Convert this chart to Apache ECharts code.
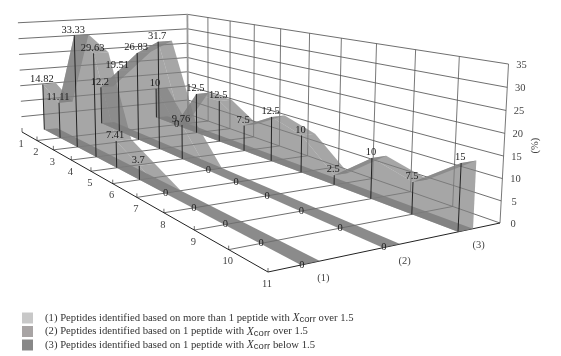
<!DOCTYPE html>
<html><head><meta charset="utf-8">
<style>html,body{margin:0;padding:0;background:#fff}#c{width:561px;height:356px}</style>
<script src="https://cdn.jsdelivr.net/npm/echarts@6/dist/echarts.min.js"></script>
</head><body><div id="c"></div>
<script>
const categories = ['1','2','3','4','5','6','7','8','9','10','11'];
const series1 = [14.82,11.11,33.33,29.63,7.41,3.7,0,0,0,0,0];
const series2 = [12.2,19.51,26.83,31.7,9.76,0,0,0,0,0,0];
const series3 = [10,0,12.5,12.5,7.5,12.5,10,2.5,10,7.5,15];
const seriesTicks = ['(1)','(2)','(3)'];
const valueTicks = [0,5,10,15,20,25,30,35];
const legendNames = [
 '(1) Peptides identified based on more than 1 peptide with Xcorr over 1.5',
 '(2) Peptides identified based on 1 peptide with Xcorr over 1.5',
 '(3) Peptides identified based on 1 peptide with Xcorr below 1.5'];
const legendColors = ['#c8c8c8','#a8a4a4','#888888'];
const ribbonBands = [[0.124,0.198],[0.457,0.531],[0.795,0.867]];
const VMAX = 35;

// camera: floor corners and wall-top corners in image space
const F = [[22,132],[268,272],[500,223],[188,114]];
const T = [[18,23],[187,16],[509,61]];
const TUV = [[0,0],[0,1],[1,1]];
const H = (function(){
  const [p0,p1,p2,p3]=F;
  const dx1=p1[0]-p2[0],dx2=p3[0]-p2[0],sx=p0[0]-p1[0]+p2[0]-p3[0];
  const dy1=p1[1]-p2[1],dy2=p3[1]-p2[1],sy=p0[1]-p1[1]+p2[1]-p3[1];
  const den=dx1*dy2-dx2*dy1;
  const g=(sx*dy2-dx2*sy)/den,h=(dx1*sy-sx*dy1)/den;
  return {a:p1[0]-p0[0]+g*p1[0],b:p3[0]-p0[0]+h*p3[0],c:p0[0],
          d:p1[1]-p0[1]+g*p1[1],e:p3[1]-p0[1]+h*p3[1],f:p0[1],g,h};
})();
function floorH(u,v){return [H.a*u+H.b*v+H.c,H.d*u+H.e*v+H.f,H.g*u+H.h*v+1];}
const Z = (function(){
  const A=[],B=[];
  T.forEach((t,i)=>{const q=floorH(TUV[i][0],TUV[i][1]);
    A.push([1,0,-t[0]]);B.push(t[0]*q[2]-q[0]);
    A.push([0,1,-t[1]]);B.push(t[1]*q[2]-q[1]);});
  const N=[[0,0,0],[0,0,0],[0,0,0]],r=[0,0,0];
  A.forEach((row,k)=>{for(let i=0;i<3;i++){r[i]+=row[i]*B[k];for(let j=0;j<3;j++)N[i][j]+=row[i]*row[j];}});
  const det=m=>m[0][0]*(m[1][1]*m[2][2]-m[1][2]*m[2][1])-m[0][1]*(m[1][0]*m[2][2]-m[1][2]*m[2][0])+m[0][2]*(m[1][0]*m[2][1]-m[1][1]*m[2][0]);
  const D=det(N);
  return [0,1,2].map(c=>det(N.map((row,i)=>row.map((x,j)=>j===c?r[i]:x)))/D);
})();
function proj(u,v,val){
  const q=floorH(u,v),z=val/VMAX;
  const w=q[2]+Z[2]*z;
  return [(q[0]+Z[0]*z)/w,(q[1]+Z[1]*z)/w];
}
const uOf = i => i/(categories.length-1);

function line(api,a,b,stroke,lw){
  const p=api.coord(a),q=api.coord(b);
  return {type:'line',shape:{x1:p[0],y1:p[1],x2:q[0],y2:q[1]},style:{stroke,lineWidth:lw}};
}
function txt(api,s,p,fill,rot){
  const c=api.coord(p);
  return {type:'text',x:c[0],y:c[1],rotation:rot||0,
    style:{text:s,align:'center',verticalAlign:'middle',fill,fontSize:10.5,fontFamily:'"Liberation Serif"'}};
}
function poly(api,pts,fill){
  return {type:'polygon',shape:{points:pts.map(p=>api.coord(p))},style:{fill}};
}
const GRID='#4a4a4a';
function renderFrame(params,api){
  if(params.dataIndex!==0) return null;
  const ch=[];
  valueTicks.forEach(t=>{
    if(t>0) ch.push(line(api,proj(0,0,t),proj(0,1,t),GRID,0.8));
    ch.push(line(api,proj(0,1,t),proj(1,1,t),GRID,0.8));
    const p=proj(1,1,t);
    ch.push(txt(api,String(t),[p[0]+13,p[1]+1],'#444'));
  });
  categories.forEach((c,i)=>{
    const u=uOf(i);
    ch.push(line(api,proj(u,1,0),proj(u,1,VMAX),i===0?'#999':'#555',i===0?1.8:0.8));
    if(i>0&&i<categories.length-1) ch.push(line(api,proj(u,0,0),proj(u,1,0),GRID,0.8));
    const t=proj(u,0,0);
    ch.push(line(api,t,[t[0],t[1]-4],GRID,0.8));
    ch.push(txt(api,c,[t[0]-1,t[1]+12],'#444'));
  });
  ch.push(line(api,proj(0,0,0),proj(1,0,0),'#222',1));
  ch.push(line(api,proj(1,0,0),proj(1,1,0),'#222',1));
  ribbonBands.forEach((b,k)=>{
    const p=proj(1,(b[0]+b[1])/2,0);
    ch.push(txt(api,seriesTicks[k],[p[0]+13,p[1]+15],'#444'));
  });
  const m=proj(1,1,VMAX/2);
  ch.push(txt(api,'(%)',[m[0]+31,m[1]+1],'#444',Math.PI/2));
  return {type:'group',children:ch};
}
const FILL='rgba(128,128,128,0.7)';
const FLOOR='rgba(110,110,110,0.8)';
function ribbon(vals,band){
  return function(params,api){
    if(params.dataIndex!==0) return null;
    const [va,vb]=band,n=vals.length,ch=[];
    ch.push(poly(api,[proj(0,va,0),proj(1,va,0),proj(1,vb,0),proj(0,vb,0)],FLOOR));
    for(let i=0;i<n-1;i++){
      if(vals[i]===0&&vals[i+1]===0) continue;
      const u0=uOf(i),u1=uOf(i+1);
      ch.push(poly(api,[proj(u0,va,vals[i]),proj(u1,va,vals[i+1]),proj(u1,vb,vals[i+1]),proj(u0,vb,vals[i])],FILL));
    }
    if(vals[n-1]>0) ch.push(poly(api,[proj(1,va,0),proj(1,vb,0),proj(1,vb,vals[n-1]),proj(1,va,vals[n-1])],FILL));
    const face=[proj(0,va,0)];
    vals.forEach((v,i)=>face.push(proj(uOf(i),va,v)));
    face.push(proj(1,va,0));
    ch.push(poly(api,face,FILL));
    return {type:'group',children:ch};
  };
}
function renderDrops(params,api){
  const i=api.value(0),k=api.value(1),v=api.value(2);
  const u=uOf(i),va=ribbonBands[k][0];
  const base=proj(u,va,0),top=proj(u,va,v),ch=[];
  if(v>0) ch.push(line(api,base,top,'#222',1));
  ch.push(txt(api,String(v),[top[0]+(v>0?-1:1),top[1]-(v>0?5.5:0)],'#222'));
  return {type:'group',children:ch};
}
const all=[series1,series2,series3];
const dropRows=[];
all.forEach((s,k)=>s.forEach((v,i)=>dropRows.push([i,k,v])));
const chart=echarts.init(document.getElementById('c'),null,{renderer:'canvas'});
const rib=(name,vals,band,color,z)=>({type:'custom',name,coordinateSystem:'cartesian2d',z,clip:false,
  silent:true,itemStyle:{color},renderItem:ribbon(vals,band),encode:{x:0,y:1},
  data:vals.map((v,i)=>[i,v])});
chart.setOption({
  animation:false,
  grid:{left:0,right:0,top:0,bottom:0},
  xAxis:{type:'value',min:0,max:561,show:false},
  yAxis:{type:'value',min:0,max:356,inverse:true,show:false},
  legend:{
    orient:'vertical',left:18,top:312,itemWidth:11,itemHeight:11,itemGap:1,padding:[0,0,0,4],
    selectedMode:false,icon:'rect',
    data:legendNames.map((n,i)=>({name:n,icon:'rect',itemStyle:{color:legendColors[i]}})),
    formatter:n=>'{p|}'+n.replace('Xcorr','{i|X}{s|corr}'),
    textStyle:{fontFamily:'"Liberation Serif"',fontSize:10.7,color:'#333',
      rich:{p:{width:7},i:{fontFamily:'"Liberation Serif"',fontStyle:'italic',fontSize:11.5,color:'#333'},
            s:{fontFamily:'"Liberation Sans"',fontSize:9.5,color:'#333',padding:[3,0,0,0]}}}
  },
  series:[
    {type:'custom',name:'frame',coordinateSystem:'cartesian2d',z:1,clip:false,silent:true,
     renderItem:renderFrame,encode:{x:0,y:1},data:[[0,0]]},
    rib(legendNames[2],series3,ribbonBands[2],legendColors[2],2),
    rib(legendNames[1],series2,ribbonBands[1],legendColors[1],3),
    rib(legendNames[0],series1,ribbonBands[0],legendColors[0],4),
    {type:'custom',name:'values',coordinateSystem:'cartesian2d',z:5,clip:false,silent:true,
     renderItem:renderDrops,encode:{x:0,y:1},data:dropRows}
  ]
});
</script></body></html>
